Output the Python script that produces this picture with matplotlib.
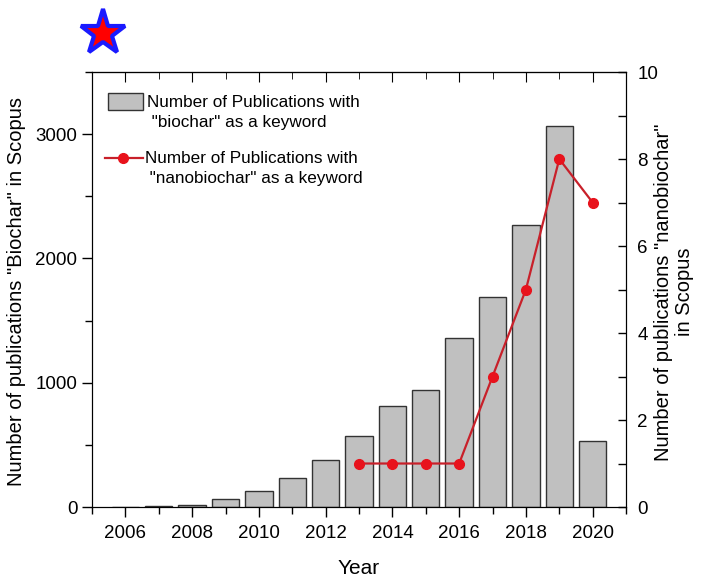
import numpy as np
import matplotlib.pyplot as plt
from matplotlib.lines import Line2D
from matplotlib.patches import Rectangle
from matplotlib.ticker import MultipleLocator

plt.rcParams['font.family'] = ['Liberation Sans', 'DejaVu Sans']

years = [2006, 2007, 2008, 2009, 2010, 2011, 2012, 2013,
         2014, 2015, 2016, 2017, 2018, 2019, 2020]
biochar = [0, 8, 16, 63, 128, 235, 375, 574,
           813, 943, 1363, 1692, 2273, 3068, 530]

nano_years = [2013, 2014, 2015, 2016, 2017, 2018, 2019, 2020]
nanobiochar = [1, 1, 1, 1, 3, 5, 8, 7]

W, H = 705, 577
BAR_FC, BAR_EC = '#c0c0c0', '#333333'
LINE_C, MARK_C = '#c8202a', '#e8121c'


def px(x, y):
    # pixel position (from top-left) -> figure fraction
    return x / W, 1 - y / H


fig = plt.figure(figsize=(W / 100, H / 100), dpi=100)
ax = fig.add_axes([0.1305, 0.1213, 0.7575, 0.7539])

ax.bar(years, biochar, width=0.82, color=BAR_FC, edgecolor=BAR_EC,
       linewidth=1.0, zorder=2)
ax.set_xlim(2005, 2021)
ax.set_ylim(0, 3500)
ax.xaxis.set_major_locator(MultipleLocator(2))
ax.xaxis.set_minor_locator(MultipleLocator(1))
ax.yaxis.set_major_locator(MultipleLocator(1000))
ax.yaxis.set_minor_locator(MultipleLocator(500))
ax.tick_params(axis='both', which='major', labelsize=13.5, length=7, width=1, direction='out')
ax.tick_params(axis='both', which='minor', length=5, width=1, direction='out')
ax.tick_params(axis='x', which='major', pad=6)
ax.set_xlabel('Year', fontsize=15, labelpad=12)

ax2 = ax.twinx()
ax2.plot(nano_years, nanobiochar, color=LINE_C, linewidth=1.6,
         marker='o', markersize=7, markerfacecolor=MARK_C, markeredgecolor=MARK_C, zorder=3)
ax2.set_ylim(0, 10)
ax2.yaxis.set_major_locator(MultipleLocator(2))
ax2.yaxis.set_minor_locator(MultipleLocator(1))
ax2.tick_params(axis='y', which='major', labelsize=13.5, length=6, width=1, direction='in', pad=8)
ax2.tick_params(axis='y', which='minor', length=6, width=1, direction='in')

# top spine ticks point inward
ax_top = ax.secondary_xaxis('top')
ax_top.xaxis.set_major_locator(MultipleLocator(2))
ax_top.xaxis.set_minor_locator(MultipleLocator(1))
ax_top.tick_params(which='major', direction='in', length=7, labeltop=False)
ax_top.tick_params(which='minor', direction='in', length=5)

# axis titles placed by hand so the two-line right one stays inside the figure
fig.text(*px(17, 292), 'Number of publications "Biochar" in Scopus',
         rotation=90, ha='center', va='center', fontsize=14.5)
fig.text(*px(674, 292), 'Number of publications "nanobiochar"\nin Scopus',
         rotation=90, ha='center', va='center', fontsize=14.5, linespacing=1.1)

# legend: handles sit level with the first line of each label
fig.add_artist(Rectangle(px(108, 110), 35 / W, 17 / H, transform=fig.transFigure,
                         facecolor=BAR_FC, edgecolor=BAR_EC, linewidth=1.0))
fig.text(*px(147, 112.5), 'Number of Publications with\n "biochar" as a keyword',
         ha='left', va='center', fontsize=12.3, linespacing=1.4)
fig.add_artist(Line2D([105 / W, 143 / W], [1 - 158 / H] * 2, transform=fig.transFigure,
                      color=LINE_C, linewidth=1.6))
fig.add_artist(Line2D([123 / W], [1 - 158 / H], transform=fig.transFigure, marker='o',
                      markersize=7, markerfacecolor=MARK_C, markeredgecolor=MARK_C))
fig.text(*px(145, 168.5), 'Number of Publications with\n "nanobiochar" as a keyword',
         ha='left', va='center', fontsize=12.3, linespacing=1.4)

# star badge in the top-left corner
fig.add_artist(Line2D([103 / W], [1 - 33 / H], transform=fig.transFigure,
                      marker='*', markersize=34, markerfacecolor='#ff0000',
                      markeredgecolor='#1a1aff', markeredgewidth=3, linestyle='none'))

fig.savefig('out.png', dpi=100)
